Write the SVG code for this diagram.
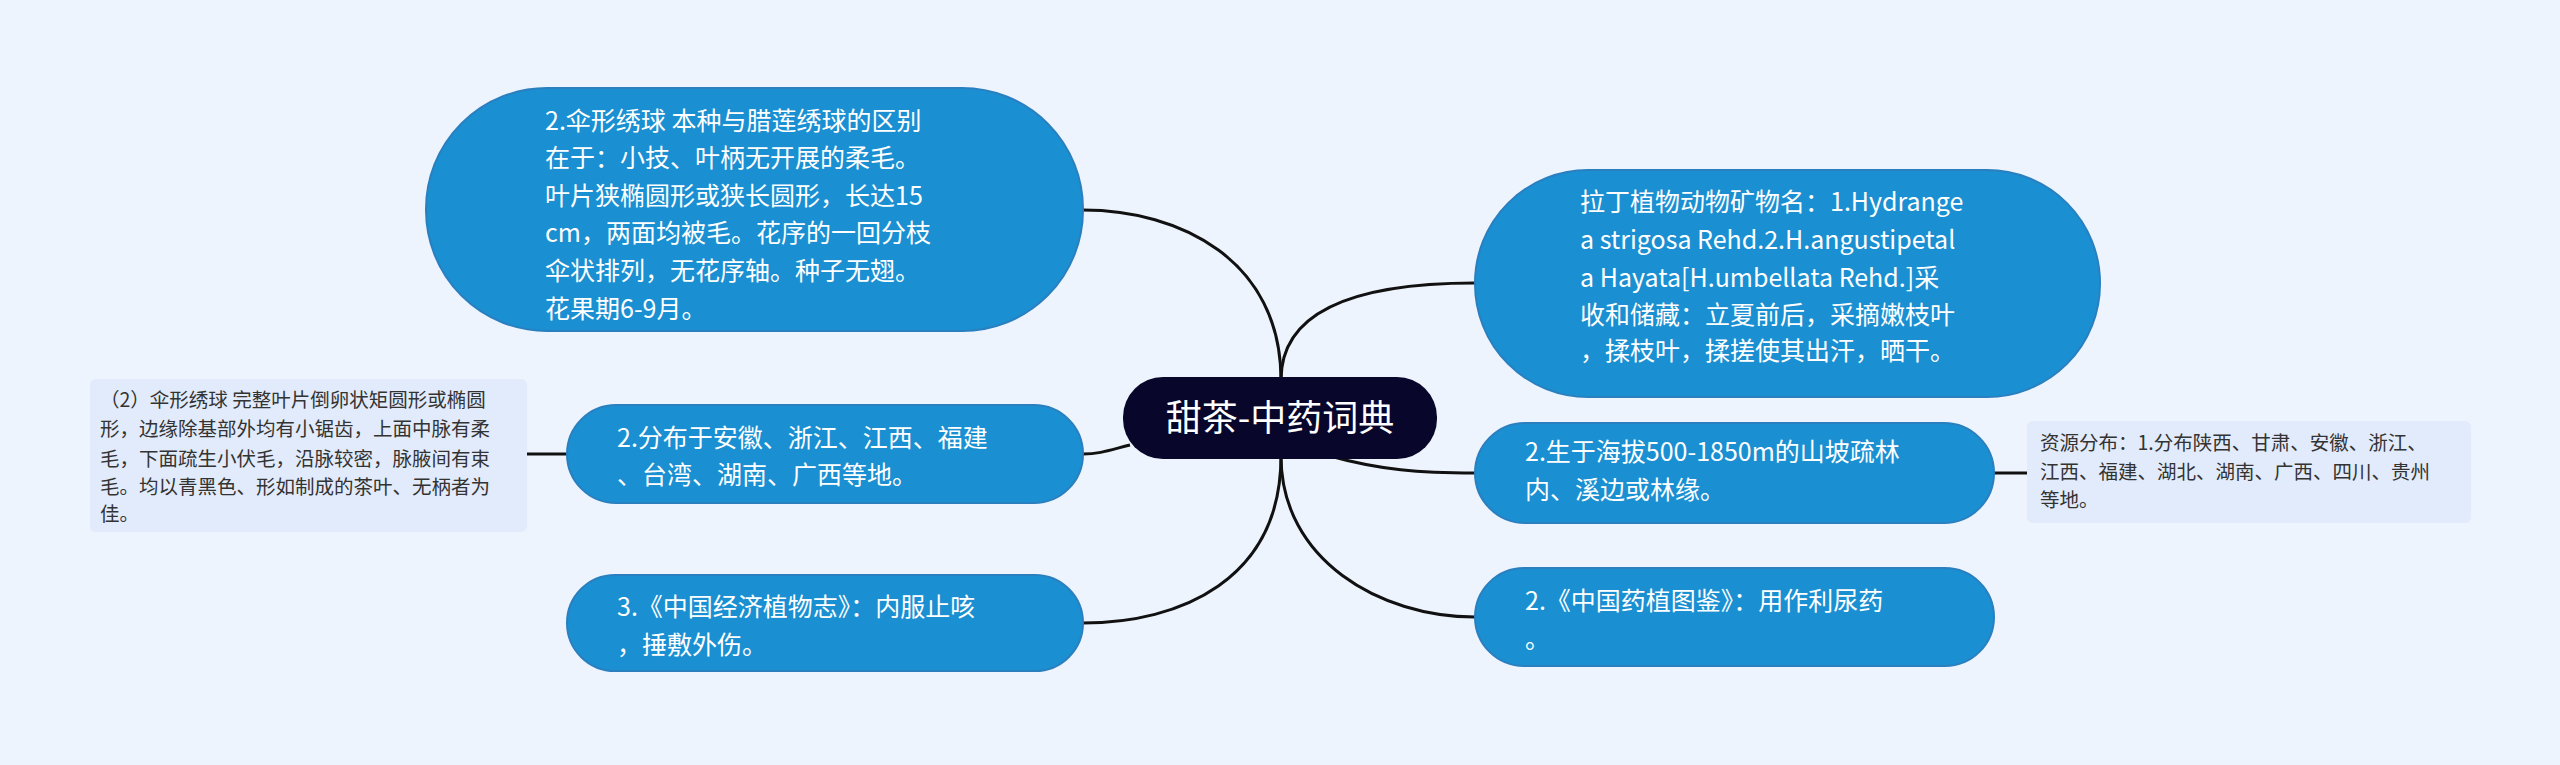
<svg xmlns="http://www.w3.org/2000/svg" width="2560" height="765" viewBox="0 0 2560 765">
<style>
.bg{fill:#eef4fd}
.n{fill:#1a90d2;stroke:#2a7fbf;stroke-width:2}
.note{fill:#e2ebfb}
.t{font-family:"Noto Sans CJK SC","Noto Sans",sans-serif;font-size:25px;fill:#fff}
.s{font-family:"Noto Sans CJK SC","Noto Sans",sans-serif;font-size:19.5px;fill:#333}
.c{fill:none;stroke:#111;stroke-width:3}
</style>
<rect class="bg" width="2560" height="765"/>
<g id="connectors">
<path class="c" d="M1281,380 C1281,260 1180,210 1083,210"/>
<path class="c" d="M1281,456 C1281,580 1180,623 1083,623"/>
<path class="c" d="M1281,380 C1281,300 1380,283 1475,283"/>
<path class="c" d="M1281,456 C1281,560 1380,617 1475,617"/>
<path class="c" d="M1130,445 C1110,450 1100,454 1083,454"/>
<path class="c" d="M1330,456 C1380,470 1420,473 1475,473"/>
<path class="c" d="M527,454 L567,454"/>
<path class="c" d="M1994,473 L2027,473"/>
</g>
<g id="center">
<rect x="1123" y="377" width="314" height="82" rx="40" fill="#08062b"/>
<text x="1280" y="431" text-anchor="middle" font-family="Noto Sans CJK SC,sans-serif" font-size="36" fill="#fff">甜茶-中药词典</text>
</g>
<g id="n1">
<rect class="n" x="426" y="88" width="657" height="243" rx="121"/>
<text class="t"><tspan x="545" y="130">2.伞形绣球 本种与腊莲绣球的区别</tspan><tspan x="545" y="167">在于：小技、叶柄无开展的柔毛。</tspan><tspan x="545" y="205">叶片狭椭圆形或狭长圆形，长达15</tspan><tspan x="545" y="242">cm，两面均被毛。花序的一回分枝</tspan><tspan x="545" y="280">伞状排列，无花序轴。种子无翅。</tspan><tspan x="545" y="318">花果期6-9月。</tspan></text>
</g>
<g id="n2">
<rect class="n" x="567" y="405" width="516" height="98" rx="49"/>
<text class="t"><tspan x="617" y="447">2.分布于安徽、浙江、江西、福建</tspan><tspan x="617" y="484">、台湾、湖南、广西等地。</tspan></text>
</g>
<g id="note1">
<rect class="note" x="90" y="379" width="437" height="153" rx="6"/>
<text class="s"><tspan x="100" y="407">（2）伞形绣球 完整叶片倒卵状矩圆形或椭圆</tspan><tspan x="100" y="436">形，边缘除基部外均有小锯齿，上面中脉有柔</tspan><tspan x="100" y="466">毛，下面疏生小伏毛，沿脉较密，脉腋间有束</tspan><tspan x="100" y="494">毛。均以青黑色、形如制成的茶叶、无柄者为</tspan><tspan x="100" y="521">佳。</tspan></text>
</g>
<g id="n3">
<rect class="n" x="567" y="575" width="516" height="96" rx="48"/>
<text class="t"><tspan x="617" y="616">3.《中国经济植物志》：内服止咳</tspan><tspan x="617" y="654">，捶敷外伤。</tspan></text>
</g>
<g id="n4">
<rect class="n" x="1475" y="170" width="625" height="227" rx="113"/>
<text class="t"><tspan x="1580" y="211">拉丁植物动物矿物名：1.Hydrange</tspan><tspan x="1580" y="249">a strigosa Rehd.2.H.angustipetal</tspan><tspan x="1580" y="287">a Hayata[H.umbellata Rehd.]采</tspan><tspan x="1580" y="324">收和储藏：立夏前后，采摘嫩枝叶</tspan><tspan x="1580" y="360">，揉枝叶，揉搓使其出汗，晒干。</tspan></text>
</g>
<g id="n5">
<rect class="n" x="1475" y="423" width="519" height="100" rx="50"/>
<text class="t"><tspan x="1525" y="461">2.生于海拔500-1850m的山坡疏林</tspan><tspan x="1525" y="499">内、溪边或林缘。</tspan></text>
</g>
<g id="note2">
<rect class="note" x="2027" y="421" width="444" height="102" rx="6"/>
<text class="s"><tspan x="2040" y="450">资源分布：1.分布陕西、甘肃、安徽、浙江、</tspan><tspan x="2040" y="479">江西、福建、湖北、湖南、广西、四川、贵州</tspan><tspan x="2040" y="507">等地。</tspan></text>
</g>
<g id="n6">
<rect class="n" x="1475" y="568" width="519" height="98" rx="49"/>
<text class="t"><tspan x="1525" y="610">2.《中国药植图鉴》：用作利尿药</tspan><tspan x="1525" y="648">。</tspan></text>
</g>
</svg>
